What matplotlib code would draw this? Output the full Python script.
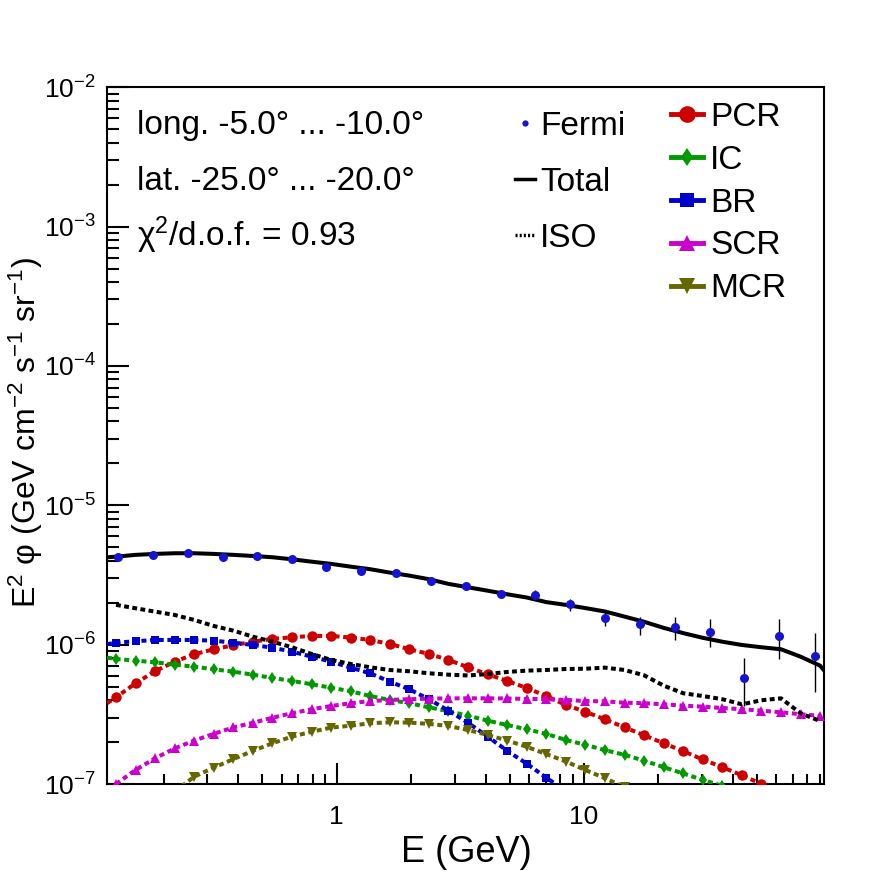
import numpy as np
import matplotlib
matplotlib.use("Agg")
import matplotlib.pyplot as plt
from matplotlib.lines import Line2D
from matplotlib.ticker import LogLocator, NullFormatter, FuncFormatter

plt.rcParams['font.family'] = ['Liberation Sans', 'DejaVu Sans']
plt.rcParams['mathtext.fontset'] = 'custom'
plt.rcParams['mathtext.rm'] = 'Liberation Sans'
plt.rcParams['mathtext.it'] = 'Liberation Sans:italic'
plt.rcParams['mathtext.bf'] = 'Liberation Sans:bold'

nan = np.nan

# Fermi data points (GeV, GeV cm^-2 s^-1 sr^-1)
e_fermi = [0.1298, 0.1799, 0.2493, 0.3455, 0.476, 0.657, 0.908, 1.259, 1.740, 2.395,
           3.32, 4.60, 6.36, 8.78, 12.13, 16.81, 23.35, 32.2, 44.4, 61.6, 85.7]
flux_fermi = [4.24e-6, 4.40e-6, 4.58e-6, 4.24e-6, 4.33e-6, 4.10e-6, 3.63e-6, 3.40e-6, 3.29e-6, 2.87e-6,
              2.65e-6, 2.30e-6, 2.26e-6, 1.95e-6, 1.55e-6, 1.40e-6, 1.34e-6, 1.23e-6, 5.74e-7, 1.15e-6, 8.25e-7]
flux_hi = [4.31e-6, 4.47e-6, 4.65e-6, 4.31e-6, 4.40e-6, 4.17e-6, 3.69e-6, 3.46e-6, 3.35e-6, 2.93e-6,
           2.71e-6, 2.38e-6, 2.46e-6, 2.14e-6, 1.73e-6, 1.59e-6, 1.57e-6, 1.53e-6, 7.99e-7, 1.53e-6, 1.21e-6]
flux_lo = [4.17e-6, 4.33e-6, 4.51e-6, 4.17e-6, 4.26e-6, 4.03e-6, 3.57e-6, 3.34e-6, 3.23e-6, 2.81e-6,
           2.59e-6, 2.22e-6, 2.12e-6, 1.75e-6, 1.36e-6, 1.17e-6, 1.08e-6, 9.63e-7, 3.63e-7, 7.86e-7, 4.55e-7]

# model energy grid (first entry = left frame edge, rest carry markers)
e_model = [0.1177, 0.128, 0.1535, 0.184, 0.221, 0.265, 0.318, 0.382, 0.458, 0.549, 0.659,
           0.791, 0.949, 1.138, 1.365, 1.638, 1.966, 2.359, 2.830, 3.396, 4.074,
           4.888, 5.865, 7.037, 8.443, 10.13, 12.15, 14.58, 17.49, 20.99, 25.18,
           30.21, 36.25, 43.49, 52.18, 62.6, 75.1, 90.1]

pcr = [3.80e-7, 4.19e-7, 5.28e-7, 6.44e-7, 7.55e-7, 8.53e-7, 9.27e-7, 9.90e-7, 1.051e-6, 1.099e-6, 1.130e-6,
       1.155e-6, 1.155e-6, 1.125e-6, 1.081e-6, 1.012e-6, 9.27e-7, 8.58e-7, 7.77e-7, 6.88e-7, 6.13e-7,
       5.49e-7, 4.89e-7, 4.28e-7, 3.69e-7, 3.30e-7, 2.91e-7, 2.55e-7, 2.24e-7, 1.96e-7, 1.72e-7,
       1.50e-7, 1.32e-7, 1.155e-7, 1.00e-7, nan, nan, nan]
ic = [8.07e-7, 7.89e-7, 7.68e-7, 7.47e-7, 7.19e-7, 6.95e-7, 6.66e-7, 6.40e-7, 6.09e-7, 5.77e-7, 5.49e-7,
      5.20e-7, 4.91e-7, 4.63e-7, 4.28e-7, 4.01e-7, 3.80e-7, 3.55e-7, 3.33e-7, 3.09e-7, 2.85e-7,
      2.65e-7, 2.47e-7, 2.29e-7, 2.07e-7, 1.91e-7, 1.75e-7, 1.62e-7, 1.47e-7, 1.32e-7, 1.19e-7,
      1.07e-7, 9.7e-8, nan, nan, nan, nan, nan]
br = [1.007e-6, 1.034e-6, 1.058e-6, 1.081e-6, 1.081e-6, 1.081e-6, 1.068e-6, 1.034e-6, 9.95e-7, 9.52e-7, 8.91e-7,
      8.20e-7, 7.55e-7, 6.84e-7, 6.23e-7, 5.43e-7, 4.78e-7, 4.06e-7, 3.36e-7, 2.75e-7, 2.19e-7,
      1.73e-7, 1.40e-7, 1.11e-7, 8.9e-8, nan, nan, nan, nan, nan, nan,
      nan, nan, nan, nan, nan, nan, nan]
scr = [nan, 1.00e-7, 1.26e-7, 1.53e-7, 1.80e-7, 2.05e-7, 2.29e-7, 2.55e-7, 2.75e-7, 2.99e-7, 3.22e-7,
       3.44e-7, 3.63e-7, 3.80e-7, 3.94e-7, 4.01e-7, 4.06e-7, 4.10e-7, 4.12e-7, 4.12e-7, 4.12e-7,
       4.11e-7, 4.08e-7, 4.06e-7, 4.01e-7, 3.94e-7, 3.92e-7, 3.83e-7, 3.80e-7, 3.73e-7, 3.65e-7,
       3.59e-7, 3.51e-7, 3.44e-7, 3.36e-7, 3.27e-7, 3.17e-7, 3.08e-7]
mcr = [nan, nan, nan, nan, 8.8e-8, 1.128e-7, 1.31e-7, 1.51e-7, 1.73e-7, 1.96e-7, 2.19e-7,
       2.37e-7, 2.54e-7, 2.62e-7, 2.73e-7, 2.77e-7, 2.76e-7, 2.70e-7, 2.61e-7, 2.44e-7, 2.25e-7,
       2.05e-7, 1.85e-7, 1.64e-7, 1.45e-7, 1.26e-7, 1.10e-7, 9.5e-8, nan, nan, nan,
       nan, nan, nan, nan, nan, nan, nan]
iso = [nan, 1.93e-6, 1.825e-6, 1.726e-6, 1.634e-6, 1.504e-6, 1.362e-6, 1.260e-6, 1.141e-6, 1.051e-6, 9.58e-7,
       8.58e-7, 7.77e-7, 7.27e-7, 6.88e-7, 6.58e-7, 6.44e-7, 6.23e-7, 6.09e-7, 6.01e-7, 6.15e-7,
       6.37e-7, 6.51e-7, 6.58e-7, 6.69e-7, 6.72e-7, 6.84e-7, 6.58e-7, 6.03e-7, 5.08e-7, 4.48e-7,
       4.28e-7, 4.06e-7, 3.73e-7, 3.99e-7, 4.12e-7, 3.22e-7, 2.83e-7]
e_total = e_model + [93.7]
total = [4.24e-6, 4.28e-6, 4.41e-6, 4.48e-6, 4.53e-6, 4.53e-6, 4.48e-6, 4.41e-6, 4.33e-6, 4.24e-6, 4.10e-6,
         3.94e-6, 3.80e-6, 3.63e-6, 3.48e-6, 3.29e-6, 3.13e-6, 2.95e-6, 2.73e-6, 2.58e-6, 2.44e-6,
         2.30e-6, 2.18e-6, 2.02e-6, 1.93e-6, 1.83e-6, 1.73e-6, 1.59e-6, 1.46e-6, 1.32e-6, 1.21e-6,
         1.12e-6, 1.05e-6, 9.95e-7, 9.58e-7, 9.27e-7, 8.20e-7, 7.07e-7, 6.51e-7]

components = [
    ("PCR", pcr, '#cc0000', 'o', 7.5),
    ("IC", ic, '#009900', 'd', 6.0),
    ("BR", br, '#0000cc', 's', 6.0),
    ("SCR", scr, '#cc00cc', '^', 7.0),
    ("MCR", mcr, '#666600', 'v', 7.0),
]

W, H = 896, 872
fig = plt.figure(figsize=(W / 100, H / 100), dpi=100)
ax = fig.add_axes([107 / W, 1 - 784 / H, 717.3 / W, 696.7 / H])
ax.set_xscale('log')
ax.set_yscale('log')
ax.set_xlim(0.1177, 93.7)
ax.set_ylim(1e-7, 1e-2)

dash = (0, (1.25, 0.9))
for name, vals, col, mk, ms in components:
    ax.plot(e_model, vals, color=col, lw=2.9, linestyle=dash, marker=mk, ms=ms,
            markevery=slice(1, None), markeredgewidth=0, zorder=3)

ax.plot(e_model, iso, color='black', lw=2.9, linestyle=(0, (1.2, 0.85)), zorder=3)
ax.plot(e_total, total, color='black', lw=2.9, zorder=4)

yerr = [np.array(flux_fermi) - np.array(flux_lo), np.array(flux_hi) - np.array(flux_fermi)]
ax.errorbar(e_fermi, flux_fermi, yerr=yerr, fmt='o', color='#1414d2', ms=6.5, mew=0,
            ecolor='black', elinewidth=1.0, capsize=2.5, capthick=1.0, zorder=5)

# axes styling in ROOT fashion
for s in ax.spines.values():
    s.set_linewidth(1.5)
ax.tick_params(which='both', direction='in', top=False, right=False, width=1.5, labelsize=19)
ax.tick_params(axis='x', which='major', length=15, pad=15)
ax.tick_params(axis='x', which='minor', length=7.2)
ax.tick_params(axis='y', which='major', length=16, pad=8)
ax.tick_params(axis='y', which='minor', length=8.4)
ax.xaxis.set_major_locator(LogLocator(base=10))
ax.xaxis.set_minor_locator(LogLocator(base=10, subs=np.arange(2, 10)))
ax.xaxis.set_major_formatter(FuncFormatter(lambda v, p: f"{v:g}"))
ax.xaxis.set_minor_formatter(NullFormatter())
ax.yaxis.set_major_locator(LogLocator(base=10))
ax.yaxis.set_minor_locator(LogLocator(base=10, subs=np.arange(2, 10)))
ax.yaxis.set_minor_formatter(NullFormatter())

ax.set_xlabel("E (GeV)", fontsize=26)
ax.xaxis.set_label_coords(0.5005, -0.0735)
ax.set_ylabel(r"E$^{2}$ φ (GeV cm$^{-2}$ s$^{-1}$ sr$^{-1}$)", fontsize=23)
ax.yaxis.set_label_coords(-0.087, 0.505)

# region info
fig.text(137 / W, 1 - 134 / H, "long. -5.0° ... -10.0°", fontsize=24, va='baseline')
fig.text(137 / W, 1 - 190 / H, "lat. -25.0° ... -20.0°", fontsize=24, va='baseline')
fig.text(137 / W, 1 - 246 / H, r"χ$^{2}$/d.o.f. = 0.93", fontsize=24, va='baseline')

h_left = [Line2D([], [], color='#1414d2', marker='o', ms=4.5, mew=0, linestyle='none'),
          Line2D([], [], color='black', lw=2.5),
          Line2D([], [], color='black', lw=2.5, linestyle=(0, (0.6, 0.6)))]
leg1 = ax.legend(h_left, ["Fermi", "Total", "ISO"], loc='upper left',
                 bbox_to_anchor=(515 / W, 1 - 111 / H), bbox_transform=fig.transFigure,
                 frameon=False, borderpad=0, borderaxespad=0, handlelength=0.6,
                 handletextpad=0.15, labelspacing=0.745, fontsize=24)
ax.add_artist(leg1)

h_right = [Line2D([], [], color=col, lw=3.5, marker=mk, ms=ms * 1.6, mew=0)
           for name, vals, col, mk, ms in components]
ax.legend(h_right, [c[0] for c in components], loc='upper left',
          bbox_to_anchor=(671 / W, 1 - 102 / H), bbox_transform=fig.transFigure,
          frameon=False, borderpad=0, borderaxespad=0, handlelength=0.96,
          handletextpad=0.21, labelspacing=0.354, fontsize=24)

fig.savefig("out.png", dpi=100)
